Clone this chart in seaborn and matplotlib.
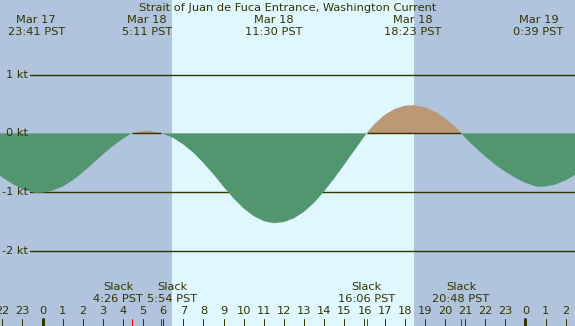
import numpy as np
import pandas as pd
import seaborn as sns
import matplotlib.pyplot as plt

# hours relative to Mar 18 00:00 PST, current in knots (negative = ebb)
hours = [-2.11, -2.0, -1.5, -1.0, -0.5, -0.32, 0.0, 0.5, 1.0, 1.5, 2.0, 2.5, 3.0,
         3.5, 4.0, 4.433, 4.5, 5.0, 5.183, 5.5, 5.9, 6.0, 6.5, 7.0, 7.5, 8.0,
         8.5, 9.0, 9.5, 10.0, 10.5, 11.0, 11.5, 12.0, 12.5, 13.0, 13.5, 14.0,
         14.5, 15.0, 15.5, 16.0, 16.1, 16.5, 17.0, 17.5, 18.0, 18.383, 19.0,
         19.5, 20.0, 20.5, 20.8, 21.0, 21.5, 22.0, 22.5, 23.0, 23.5, 24.0,
         24.5, 24.65, 25.0, 25.5, 26.0, 26.5]
knots = [-0.72, -0.75, -0.86, -0.95, -1.005, -1.015, -1.01, -0.975, -0.905,
         -0.80, -0.665, -0.515, -0.36, -0.215, -0.09, 0.0, 0.005, 0.04, 0.045,
         0.03, 0.0, -0.01, -0.08, -0.19, -0.33, -0.505, -0.70, -0.91, -1.11,
         -1.28, -1.41, -1.495, -1.53, -1.51, -1.445, -1.335, -1.18, -0.985,
         -0.765, -0.53, -0.29, -0.05, 0.0, 0.16, 0.315, 0.415, 0.47, 0.48,
         0.445, 0.37, 0.26, 0.115, 0.0, -0.075, -0.24, -0.395, -0.535, -0.655,
         -0.76, -0.845, -0.90, -0.91, -0.905, -0.87, -0.80, -0.70]

slack_hours = [4 + 26 / 60, 5 + 54 / 60, 16 + 6 / 60, 20 + 48 / 60]
slack_labels = ["4:26 PST", "5:54 PST", "16:06 PST", "20:48 PST"]

peak_hours = [-19 / 60, 5 + 11 / 60, 11.5, 18 + 23 / 60, 24 + 39 / 60]
peak_dates = ["Mar 17", "Mar 18", "Mar 18", "Mar 18", "Mar 19"]
peak_times = ["23:41 PST", "5:11 PST", "11:30 PST", "18:23 PST", "0:39 PST"]

sunrise, sunset = 6.42, 18.46
hour_ticks = list(range(-2, 27))
kt_levels = [1, 0, -1, -2]

NIGHT = "#b0c4de"
DAY = "#dff7ff"
EBB = "#529670"
FLOOD = "#bb9977"
INK = "#333300"

sns.set_theme(style="white")
plt.rcParams["font.family"] = ["DejaVu Sans"]
plt.rcParams["font.size"] = 8.2

df = pd.DataFrame({"hour": hours, "kt": knots})

fig = plt.figure(figsize=(5.75, 3.26), dpi=100)
ax = fig.add_axes([0, 0, 1, 1])
ax.set_xlim(-2.112, 26.46)
ax.set_ylim(-3.28, 2.27)
ax.axis("off")
ax.add_patch(plt.Rectangle((0, 0), 1, 1, transform=ax.transAxes,
                           color=NIGHT, zorder=0))
ax.axvspan(sunrise, sunset, color=DAY, zorder=0.5, lw=0)

# datum lines
for lv in kt_levels:
    if lv != 0:
        ax.axhline(lv, xmin=30 / 575, xmax=1, color=INK, lw=1.0, zorder=1)
    ax.text(28 / 575, lv, f"{lv} kt", transform=ax.get_yaxis_transform(),
            ha="right", va="center", color=INK)

# zero line visible under the flood fills
ax.hlines(0, slack_hours[0], slack_hours[1], color=INK, lw=1.0, zorder=1)
ax.hlines(0, slack_hours[2], slack_hours[3], color=INK, lw=1.0, zorder=1)

x = df["hour"].to_numpy()
y = df["kt"].to_numpy()
ax.fill_between(x, y, 0, where=y <= 0, interpolate=True, color=EBB,
                lw=0, zorder=2)
ax.fill_between(x, y, 0, where=y >= 0, interpolate=True, color=FLOOD,
                lw=0, zorder=0.9)

# title and peak labels
ax.text(0.5, 1 - 8 / 326, "Strait of Juan de Fuca Entrance, Washington Current",
        transform=ax.transAxes, ha="center", va="center", color=INK)
tr = ax.get_xaxis_transform()
for h, d, t in zip(peak_hours, peak_dates, peak_times):
    ax.text(h, 1 - 20 / 326, d, transform=tr, ha="center", va="center", color=INK)
    ax.text(h, 1 - 32 / 326, t, transform=tr, ha="center", va="center", color=INK)

# slack labels (first two nudged apart)
nudge = [-0.67, 0.55, 0.0, 0.0]
for h, lab, dn in zip(slack_hours, slack_labels, nudge):
    ax.text(h + dn, 1 - 287 / 326, "Slack", transform=tr, ha="center",
            va="center", color=INK)
    ax.text(h + dn, 1 - 299 / 326, lab, transform=tr, ha="center",
            va="center", color=INK)

# hour ticks
for h in hour_ticks:
    lw = 3 if h % 24 == 0 else 1
    ax.axvline(h, ymin=0, ymax=7 / 326, color=INK, lw=lw * 0.72, zorder=3)
    ax.text(h, 1 - 311.5 / 326, str(h % 24), transform=tr, ha="center",
            va="center", color=INK)
for h in slack_hours:
    ax.axvline(h, ymin=0, ymax=7 / 326, color="red", lw=0.72, zorder=3)

fig.savefig("out.png", dpi=100)
